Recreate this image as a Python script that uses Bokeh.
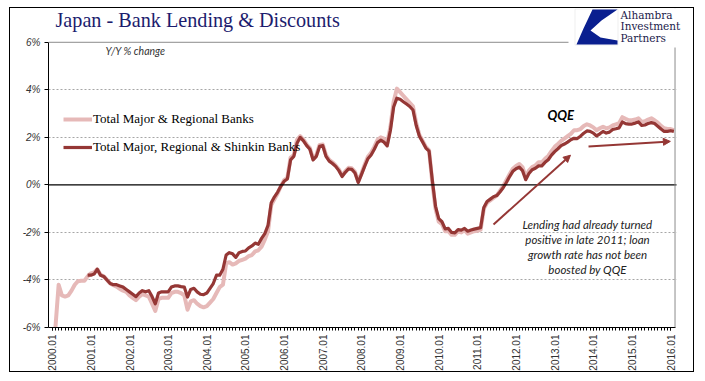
import math
from bokeh.plotting import figure
from bokeh.models import (Range1d, FixedTicker, Span, Label, Legend, LegendItem,
                          Arrow, NormalHead, PolyAnnotation)
from bokeh.embed import file_html
from bokeh.resources import INLINE

# ---------------- data ----------------
title_text = "Japan - Bank Lending & Discounts"
light_name = "Total Major & Regional Banks"
dark_name = "Total Major, Regional & Shinkin Banks"

light_start = 0   # month index of 2000.01
dark_start = 11   # month index of 2000.12

light_values = [
    -6.5, -6.0, -4.2, -4.65, -4.7, -4.65, -4.45, -4.2, -4.05, -4.03, -4.03, -3.85,
    -3.72, -3.68, -3.55, -3.78, -3.85, -4.0, -4.15, -4.22, -4.28, -4.38, -4.45, -4.5,
    -4.65, -4.75, -4.85, -4.7, -4.6, -4.65, -4.7, -5.0, -5.3, -4.8, -4.75, -4.75,
    -4.75, -4.55, -4.5, -4.5, -4.55, -4.65, -5.25, -4.9, -4.85, -5.0, -5.1, -5.15,
    -5.1, -4.95, -4.8, -4.55, -4.3, -4.2, -3.3, -3.25, -3.35, -3.3, -3.2, -3.15,
    -3.1, -3.0, -2.95, -2.8, -2.75, -2.6, -2.3, -1.95, -0.85, -0.6, -0.35, -0.05,
    0.2, 0.3, 1.15, 1.25, 1.9, 2.05, 1.9, 1.7, 1.55, 1.1, 1.25, 1.68,
    1.7, 1.25, 1.05, 0.95, 0.82, 0.65, 0.4, 0.58, 0.72, 0.7, 0.55, 0.15,
    0.48, 0.85, 1.18, 1.35, 1.6, 1.9, 2.0, 1.95, 1.75, 2.45, 3.5, 4.05,
    3.9, 3.75, 3.6, 3.45, 3.3, 2.6, 2.1, 1.85, 1.6, 1.45, 0.1, -1.0,
    -1.55, -1.65, -1.95, -1.95, -2.1, -2.1, -1.95, -2.0, -1.9, -2.05, -2.0, -1.95,
    -1.93, -1.88, -1.0, -0.75, -0.65, -0.55, -0.45, -0.25, -0.05, 0.2, 0.45, 0.68,
    0.8, 0.88, 0.75, 0.35, 0.6, 0.75, 0.82, 0.95, 0.95, 1.1, 1.22, 1.42,
    1.6, 1.72, 1.85, 1.95, 2.05, 2.15, 2.3, 2.3, 2.35, 2.48, 2.55, 2.5,
    2.42, 2.3, 2.38, 2.45, 2.38, 2.42, 2.5, 2.55, 2.6, 2.85, 2.78, 2.72,
    2.72, 2.75, 2.8, 2.65, 2.68, 2.75, 2.8, 2.72, 2.62, 2.48, 2.38, 2.35,
    2.35, 2.3,
]

dark_values = [
    -3.8,
    -3.8, -3.75, -3.55, -3.8, -3.85, -4.0, -4.15, -4.2, -4.2, -4.25, -4.3, -4.4,
    -4.5, -4.6, -4.7, -4.55, -4.45, -4.5, -4.45, -4.7, -5.0, -4.55, -4.5, -4.5,
    -4.5, -4.3, -4.25, -4.25, -4.28, -4.3, -4.72, -4.4, -4.35, -4.5, -4.6, -4.62,
    -4.55, -4.35, -4.15, -3.8, -3.8, -3.55, -2.95, -2.85, -2.9, -3.05, -2.85, -2.8,
    -2.78, -2.65, -2.57, -2.45, -2.5, -2.25, -2.05, -1.7, -0.75, -0.5, -0.3, -0.05,
    0.15, 0.25, 1.05, 1.2, 1.75, 2.0, 1.85, 1.65, 1.5, 1.05, 1.2, 1.62,
    1.65, 1.2, 1.0, 0.9, 0.78, 0.6, 0.35, 0.53, 0.67, 0.65, 0.5, 0.1,
    0.43, 0.78, 1.1, 1.26, 1.5, 1.78, 1.88, 1.8, 1.64, 2.3, 3.28, 3.65,
    3.6, 3.5, 3.4, 3.3, 3.15, 2.5, 2.05, 1.8, 1.55, 1.42, 0.2, -0.9,
    -1.42, -1.55, -1.85, -1.83, -2.0, -2.02, -1.88, -1.9, -1.83, -1.95, -1.9, -1.86,
    -1.83, -1.8, -0.95, -0.7, -0.6, -0.5, -0.45, -0.3, -0.12, 0.1, 0.35, 0.57,
    0.68, 0.75, 0.6, 0.22, 0.48, 0.64, 0.7, 0.8, 0.8, 0.95, 1.06, 1.25,
    1.4, 1.52, 1.65, 1.72, 1.8, 1.9, 1.96, 1.95, 2.05, 2.17, 2.27, 2.25,
    2.18, 2.06, 2.15, 2.25, 2.18, 2.22, 2.33, 2.36, 2.4, 2.65, 2.58, 2.56,
    2.56, 2.6, 2.65, 2.5, 2.52, 2.58, 2.62, 2.58, 2.47, 2.35, 2.25, 2.25,
    2.28, 2.25,
]

x_tick_labels = ["2000.01", "2001.01", "2002.01", "2003.01", "2004.01", "2005.01",
                 "2006.01", "2007.01", "2008.01", "2009.01", "2010.01", "2011.01",
                 "2012.01", "2013.01", "2014.01", "2015.01", "2016.01"]
y_ticks = [-6, -4, -2, 0, 2, 4, 6]
y_tick_labels = ["-6%", "-4%", "-2%", "0%", "2%", "4%", "6%"]
grid_ticks = [-4, -2, 2, 4]

subtitle_text = "Y/Y % change"
qqe_text = "QQE"
note_lines = ["Lending had already turned", "positive in late 2011; loan",
              "growth rate has not been", "boosted by QQE"]
# arrows: (month index, value) start -> end
arrow_up = [(137.0, -1.67), (160.9, 1.25)]
arrow_flat = [(166.5, 1.62), (191.9, 1.83)]
logo_lines = ["Alhambra", "Investment", "Partners"]

# ---------------- styling ----------------
LIGHT = "#E6B9B8"
DARK = "#953735"
NAVY = "#1c1c6e"

# the figure's canvas sits at page (10, 8) (body margin is 0 in Bokeh's page)
CANVAS_X, CANVAS_Y, CANVAS_W, CANVAS_H = 10, 8, 685, 365
PLOT_L, PLOT_T, PLOT_B, PLOT_R = 48, 42, 329, 675   # page px of the chart area
X_START, X_END_AREA = -1.15, 193.5                  # x values at PLOT_L / PLOT_R
PX_PER_X = (PLOT_R - PLOT_L) / (X_END_AREA - X_START)
PX_PER_Y = (PLOT_B - PLOT_T) / 12.0
# the bokeh frame is stretched to the canvas' top and right edge so that the
# title and logo (drawn as annotations) are not clipped
FRAME_T = CANVAS_Y
FRAME_R = CANVAS_X + CANVAS_W
Y_TOP = 6 + (PLOT_T - FRAME_T) / PX_PER_Y
X_END = X_END_AREA + (FRAME_R - PLOT_R) / PX_PER_X


def sx(px):
    return px - PLOT_L


def sy(py):
    return PLOT_B - py


p = figure(width=CANVAS_W, height=CANVAS_H, output_backend="svg", toolbar_location=None,
           x_range=Range1d(X_START, X_END), y_range=Range1d(-6, Y_TOP),
           min_border_left=PLOT_L - CANVAS_X, min_border_right=0,
           min_border_top=0, min_border_bottom=CANVAS_Y + CANVAS_H - PLOT_B)
p.styles = {"border": "1px solid black", "margin-left": "9px", "margin-top": "7px"}
p.outline_line_color = None
p.background_fill_color = "white"
p.border_fill_color = "white"

light_x = [light_start + i for i in range(len(light_values))]
dark_x = [dark_start + i for i in range(len(dark_values))]

r_light = p.line(light_x, light_values, line_color=LIGHT, line_width=4,
                 line_join="round")
r_dark = p.line(dark_x, dark_values, line_color=DARK, line_width=3.2,
                line_join="round")

# axes
major_x = [12 * i for i in range(len(x_tick_labels))]
minor_x = list(range(0, 12 * (len(x_tick_labels) - 1) + 1))
p.xaxis.ticker = FixedTicker(ticks=major_x, minor_ticks=minor_x)
p.xaxis.bounds = (X_START, X_END_AREA)
p.xaxis.major_label_overrides = {t: lab for t, lab in zip(major_x, x_tick_labels)}
p.xaxis.major_label_orientation = math.pi / 2
p.xaxis.major_label_text_font = "Liberation Sans"
p.xaxis.major_label_text_font_size = "10px"
p.xaxis.major_label_text_color = "#333333"
p.xaxis.major_label_standoff = 4
p.xaxis.major_tick_out = 3
p.xaxis.major_tick_in = 0
p.xaxis.minor_tick_out = 3
p.xaxis.minor_tick_in = 0
p.xaxis.axis_line_color = "black"
p.xaxis.major_tick_line_color = "black"
p.xaxis.minor_tick_line_color = "black"

p.yaxis.ticker = FixedTicker(ticks=y_ticks, minor_ticks=[])
p.yaxis.bounds = (-6, 6)
p.yaxis.major_label_overrides = {t: lab for t, lab in zip(y_ticks, y_tick_labels)}
p.yaxis.major_label_text_font = "Liberation Sans"
p.yaxis.major_label_text_font_style = "italic"
p.yaxis.major_label_text_font_size = "10px"
p.yaxis.major_label_text_color = "#333333"
p.yaxis.major_label_standoff = 4
p.yaxis.major_tick_out = 4
p.yaxis.major_tick_in = 0
p.yaxis.axis_line_color = "black"

p.xgrid.grid_line_color = None
p.ygrid.ticker = FixedTicker(ticks=grid_ticks)
p.ygrid.grid_line_color = "#a6a6a6"
p.ygrid.grid_line_dash = "2 2"
p.ygrid.grid_line_width = 1

p.add_layout(Span(location=0, dimension="width", line_color="black", line_width=1.2))
# top frame line at 6%
p.add_layout(Span(location=6, dimension="width", line_color="#8c8c8c", line_width=1))

# blank strip right of the chart area (hides grid/zero lines there)
p.add_layout(PolyAnnotation(xs=[sx(676), sx(700), sx(700), sx(676)],
                            ys=[sy(0), sy(0), sy(340), sy(340)],
                            xs_units="screen", ys_units="screen",
                            fill_color="white", fill_alpha=1, line_color=None))
# right frame line
p.add_layout(Span(location=X_END_AREA - 0.15, dimension="height",
                  line_color="#8c8c8c", line_width=1))

# legend
legend = Legend(items=[LegendItem(label=light_name, renderers=[r_light]),
                       LegendItem(label=dark_name, renderers=[r_dark])],
                location=(15, 170), padding=0, margin=0, spacing=8,
                glyph_width=29, glyph_height=20, label_height=20,
                label_standoff=1, label_text_font="Liberation Serif",
                label_text_font_size="13px", label_text_color="black",
                background_fill_alpha=0, border_line_color=None)
p.add_layout(legend)

# texts
p.add_layout(Label(x=sx(105), y=sy(58), x_units="screen", y_units="screen",
                   text=subtitle_text, text_font="Lato", text_font_style="italic",
                   text_font_size="10.5px", text_color="#333333"))
p.add_layout(Label(x=sx(547), y=sy(124), x_units="screen", y_units="screen",
                   text=qqe_text, text_font="Lato", text_font_style="bold italic",
                   text_font_size="13px", text_color="black"))
for i, line in enumerate(note_lines):
    p.add_layout(Label(x=sx(587), y=sy(232 + 15 * i), x_units="screen",
                       y_units="screen", text=line, text_align="center",
                       text_font="Lato", text_font_style="italic",
                       text_font_size="11.5px", text_color="#222222"))

for (a, b) in (arrow_up, arrow_flat):
    p.add_layout(Arrow(end=NormalHead(size=7, fill_color=DARK, line_color=DARK),
                       x_start=a[0], y_start=a[1], x_end=b[0], y_end=b[1],
                       line_color=DARK, line_width=2))

# title
p.add_layout(Label(x=sx(55), y=sy(32.5), x_units="screen", y_units="screen",
                   text=title_text, text_font="Liberation Serif",
                   text_font_size="20.2px", text_color=NAVY))

# logo
p.add_layout(PolyAnnotation(xs=[sx(568), sx(700), sx(700), sx(568)],
                            ys=[sy(0), sy(0), sy(49), sy(49)],
                            xs_units="screen", ys_units="screen",
                            fill_color="white", fill_alpha=1, line_color=None,
                            level="overlay"))
p.add_layout(PolyAnnotation(xs=[sx(574.5), sx(617.5), sx(617.5), sx(574.5)],
                            ys=[sy(10.5), sy(10.5), sy(46.5), sy(46.5)],
                            xs_units="screen", ys_units="screen",
                            fill_color="white", fill_alpha=1, line_color="#c8c8c8",
                            level="overlay"))
p.add_layout(PolyAnnotation(xs=[sx(592), sx(617), sx(601), sx(590), sx(600), sx(617),
                                sx(617), sx(576), sx(583)],
                            ys=[sy(11), sy(11), sy(22), sy(32), sy(39), sy(42),
                                sy(46), sy(46), sy(30)],
                            xs_units="screen", ys_units="screen",
                            fill_color="#0a1f8f", fill_alpha=1, line_color=None,
                            level="overlay"))
for i, line in enumerate(logo_lines):
    p.add_layout(Label(x=sx(620), y=sy(22 + 11.5 * i), x_units="screen",
                       y_units="screen", text=line, text_font="DejaVu Serif",
                       text_font_size="10.5px", text_color="#1a1a4a",
                       level="overlay"))

open("out.html", "w").write(file_html(p, INLINE))
